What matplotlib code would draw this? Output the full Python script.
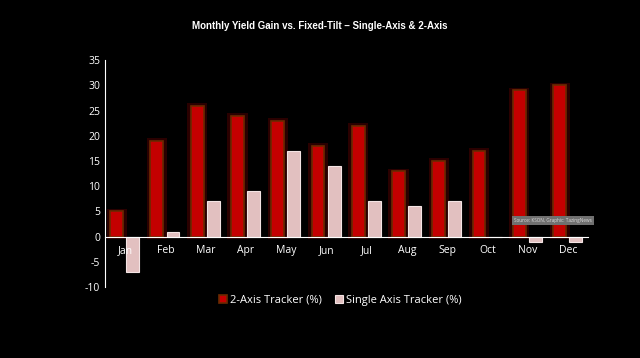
import matplotlib
matplotlib.use('Agg')
import matplotlib.pyplot as plt
import numpy as np

months = ['Jan', 'Feb', 'Mar', 'Apr', 'May', 'Jun', 'Jul', 'Aug', 'Sep', 'Oct', 'Nov', 'Dec']
two_axis = [5, 19, 26, 24, 23, 18, 22, 13, 15, 17, 29, 30]
single_axis = [-7, 1, 7, 9, 17, 14, 7, 6, 7, 0, -1, -1]
y_ticks = [-10, -5, 0, 5, 10, 15, 20, 25, 30, 35]

plt.rcParams['font.family'] = ['Open Sans', 'DejaVu Sans']
plt.rcParams['axes.unicode_minus'] = False

fig = plt.figure(figsize=(6.4, 3.58), dpi=100, facecolor='black')
ax = fig.add_axes([0.164, 0.198, 0.755, 0.634], facecolor='black')

x = np.arange(len(months))
# dark halo behind the red bars
ax.bar(x - 0.21, [v + 1 for v in two_axis], width=0.5, bottom=-0.5,
       color='#2a0000', zorder=1)
ax.bar(x - 0.21, two_axis, width=0.32, color='#c40000',
       edgecolor='#6b2a00', linewidth=1.2, zorder=2, label='2-Axis Tracker (%)')
ax.bar(x + 0.19, single_axis, width=0.32, color='#e2c0c0',
       edgecolor='#f4e4e4', linewidth=0.8, zorder=2, label='Single Axis Tracker (%)')

ax.set_xlim(-0.5, 11.5)
ax.set_ylim(-10, 35)
ax.set_yticks(y_ticks)
ax.set_xticks(x)
ax.set_xticklabels(months)
ax.tick_params(colors='white', labelsize=7.5, length=0)
ax.tick_params(axis='x', pad=6)
ax.xaxis.set_zorder(5)
for s in ['top', 'right']:
    ax.spines[s].set_visible(False)
ax.spines['left'].set_color('white')
ax.spines['bottom'].set_color('white')
ax.spines['bottom'].set_position(('data', 0))
ax.spines['bottom'].set_zorder(3)

ax.text(9.66, 3.2, 'Source: KSON, Graphic: TazingNews', fontsize=3.3, color='#dddddd',
        va='center', ha='left', zorder=4,
        bbox=dict(boxstyle='square,pad=0.45', facecolor='#707070', edgecolor='none'))

fig.text(0.5, 0.927, 'Monthly Yield Gain vs. Fixed-Tilt \u2013 Single-Axis & 2-Axis',
         ha='center', va='center', color='white', fontsize=7,
         fontweight='bold', family='Liberation Sans')

fig.legend(loc='center', bbox_to_anchor=(0.532, 0.162), ncol=2, frameon=False,
           labelcolor='white', fontsize=8, handlelength=0.7, handleheight=0.7,
           handletextpad=0.3, columnspacing=1.2)

fig.savefig('out.png', dpi=100, facecolor='black')
